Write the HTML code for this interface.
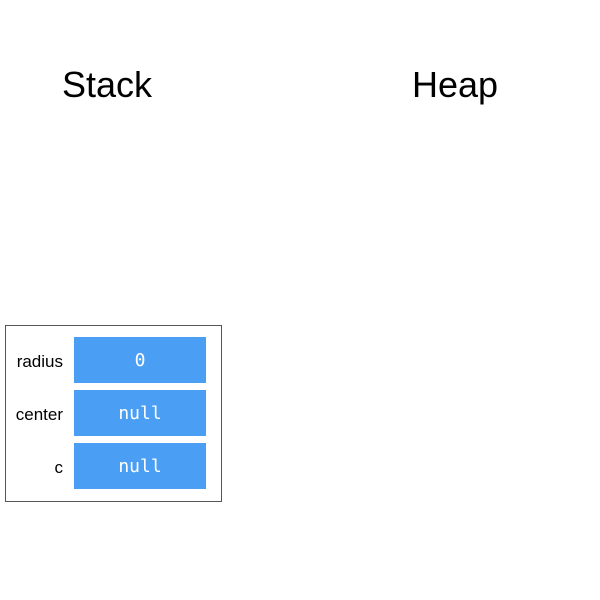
<!DOCTYPE html>
<html><head><style>
body{margin:0;width:600px;height:600px;background:#fff;position:relative;font-family:"Liberation Sans",sans-serif;overflow:hidden}
.t{position:absolute;font-size:36px;color:#000;top:64px}
.box{position:absolute;left:5px;top:325px;width:215px;height:175px;border:1px solid #555;box-sizing:content-box}
.c{position:absolute;left:74px;width:132px;height:46px;background:#4a9ff5;color:#fff;font-family:"DejaVu Sans Mono","Liberation Mono",monospace;font-size:18px;text-align:center;line-height:48px}
.l{position:absolute;right:537px;font-size:17px;line-height:50px;text-align:right}
</style></head><body>
<div class="t" style="left:62px">Stack</div>
<div class="t" style="left:412px">Heap</div>
<div class="box"></div>
<div class="l" style="top:337px">radius</div>
<div class="l" style="top:390px">center</div>
<div class="l" style="top:443px">c</div>
<div class="c" style="top:337px">0</div>
<div class="c" style="top:390px">null</div>
<div class="c" style="top:443px">null</div>
</body></html>
